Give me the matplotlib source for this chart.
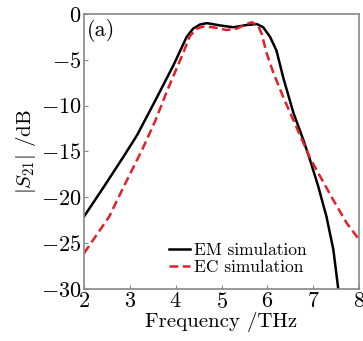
import matplotlib
matplotlib.use('Agg')
import matplotlib.pyplot as plt

plt.rcParams['font.family'] = ['cmr10', 'DejaVu Serif']
plt.rcParams['mathtext.fontset'] = 'cm'
plt.rcParams['axes.formatter.use_mathtext'] = True

# EM simulation (black solid)
em_freq = [2.0, 2.44, 2.87, 3.16, 3.56, 3.96, 4.09, 4.24, 4.38, 4.53, 4.68, 4.97,
           5.26, 5.55, 5.77, 5.91, 6.06, 6.2, 6.35, 6.57, 6.79, 6.93, 7.11, 7.29,
           7.44, 7.56]
em_s21 = [-22.1, -18.8, -15.5, -13.2, -9.4, -5.5, -4.1, -2.5, -1.6, -1.15, -1.0, -1.25,
          -1.45, -1.2, -1.1, -1.45, -2.5, -4.0, -7.0, -10.8, -13.8, -15.9, -18.8, -22.1,
          -25.7, -30.5]

# EC simulation (red dashed)
ec_freq = [2.0, 2.55, 2.87, 3.27, 3.56, 3.82, 4.11, 4.2, 4.31, 4.46, 4.6, 4.82,
           5.11, 5.33, 5.55, 5.66, 5.8, 5.88, 5.98, 6.13, 6.35, 6.57, 6.79, 6.93,
           7.15, 7.44, 7.73, 8.0]
ec_s21 = [-26.1, -22.1, -18.8, -14.8, -11.6, -8.3, -4.9, -3.8, -2.4, -1.6, -1.38, -1.45,
          -1.75, -1.6, -1.1, -0.9, -1.3, -2.2, -4.2, -6.4, -9.1, -11.6, -14.1, -15.7,
          -17.7, -20.3, -22.8, -24.6]

fig = plt.figure(figsize=(3.63, 3.41), dpi=100)
ax = fig.add_axes([0.2314, 0.1525, 0.7576, 0.8065])

ax.plot(em_freq, em_s21, color='black', lw=1.8, label='EM simulation')
ax.plot(ec_freq, ec_s21, color='#e0202a', lw=1.8, ls=(0, (3.5, 1.8)), label='EC simulation')

ax.set_xlim(2, 8)
ax.set_ylim(-30, 0)
ax.set_xticks([2, 3, 4, 5, 6, 7, 8])
ax.set_yticks([-30, -25, -20, -15, -10, -5, 0])
ax.tick_params(direction='in', labelsize=16, length=3, color='#888888', pad=2)
for s in ax.spines.values():
    s.set_color('#888888')
    s.set_linewidth(1.2)

ax.set_xlabel('Frequency /THz', fontsize=15, labelpad=0)
ax.set_ylabel(r'$|S_{21}|$ /dB', fontsize=15, labelpad=2)
ax.text(0.012, 0.98, '(a)', transform=ax.transAxes, fontsize=16, va='top', ha='left')

ax.legend(loc='lower right', bbox_to_anchor=(0.84, 0.02), frameon=False, fontsize=12.5,
          handlelength=1.2, handletextpad=0.2, labelspacing=0.1, borderpad=0)

fig.savefig('out.png', dpi=100)
